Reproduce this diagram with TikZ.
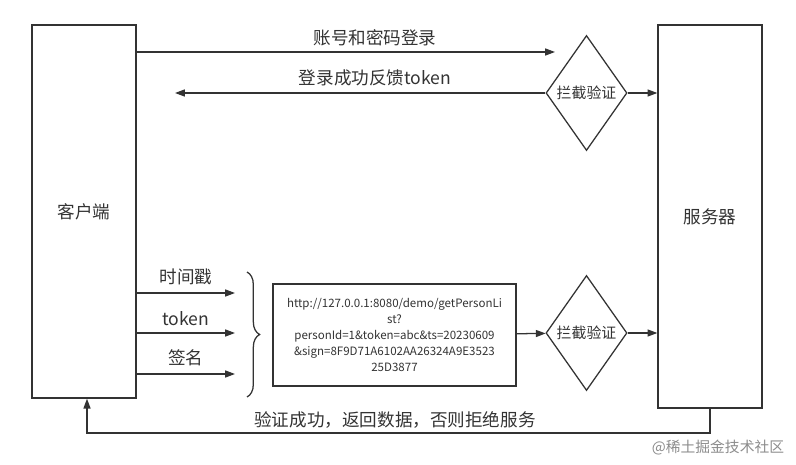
\documentclass[tikz,border=0pt]{standalone}
\usepackage{fontspec}
\setmainfont{Noto Sans CJK SC}
\usetikzlibrary{arrows.meta,positioning,shapes.geometric,decorations.pathreplacing}

\begin{document}
\begin{tikzpicture}[x=0.025cm,y=-0.025cm,>={Triangle[length=7pt,width=5pt]},
  line width=0.9pt,color=black!80,
  party/.style={draw,minimum width=2.6cm,font=\fontsize{12.5pt}{15pt}\selectfont},
  check/.style={draw,diamond,inner sep=0pt,minimum width=2.025cm,minimum height=2.875cm,
    font=\fontsize{10.6pt}{13pt}\selectfont},
  msg/.style={font=\fontsize{12.5pt}{15pt}\selectfont,inner sep=1pt}]
\useasboundingbox (0,0) rectangle (796,465);

% the two sides
\node[party,minimum height=9.325cm] (client) at (84,211.5) {客户端};
\node[party,minimum height=9.575cm] (server) at (710,216.5) {服务器};

% login
\node[check] (gate1) at (586.5,93) {拦截验证};
\coordinate (loginend) at (555,52);
\coordinate (tokenend) at (175,93);
\draw[->] (client.east |- loginend) -- (loginend);
\draw[->] (gate1.west) -- (tokenend);
\draw[->] (gate1.east) -- (server.west |- gate1);
\node[msg] (login) at (375,38) {账号和密码登录};
\node[msg] (tokenback) at (375,78) {登录成功反馈token};

% signed request
\coordinate (ts) at (235,293);
\coordinate (tk) at (235,333);
\coordinate (sg) at (235,374);
\draw[->] (client.east |- ts) -- node[msg,above=4pt] (tslabel) {时间戳} (ts);
\draw[->] (client.east |- tk) -- node[msg,above=4pt] (tklabel) {token} (tk);
\draw[->] (client.east |- sg) -- node[msg,above=4pt] (sglabel) {签名} (sg);
\draw[decorate,decoration={brace,amplitude=9pt}] (247,272) -- (247,397);

\node[draw,minimum width=6.075cm,minimum height=2.55cm,align=center,
  font=\fontsize{8.2pt}{11.3pt}\selectfont] (url) at (394.5,335)
  {http://127.0.0.1:8080/demo/getPersonLi\\st?\\personId=1\&token=abc\&ts=20230609\\\&sign=8F9D71A6102AA26324A9E3523\\25D3877};
\node[check] (gate2) at (586.5,333) {拦截验证};
\draw[->] (url) -- (gate2);
\draw[->] (gate2.east) -- (server.west |- gate2);

% response
\coordinate (back) at (87,433);
\draw[->] (server.south) |- (back) -- (client.south -| back);
\node[msg] (reply) at (395,420) {验证成功，返回数据，否则拒绝服务};

\node[text=black!45,font=\fontsize{10.5pt}{12pt}\selectfont] (mark) at (718,448) {@稀土掘金技术社区};
\end{tikzpicture}
\end{document}
